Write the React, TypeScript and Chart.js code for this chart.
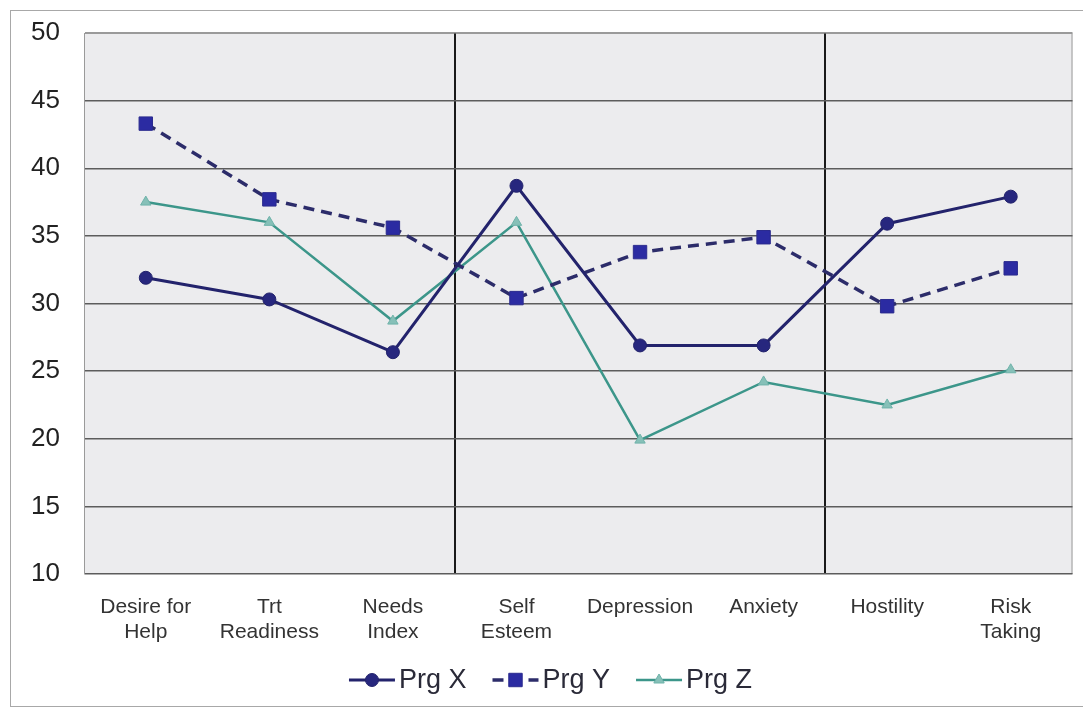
import React, { useEffect, useRef } from 'react';
import { Chart, registerables } from 'chart.js';

Chart.register(...registerables);

const categories: string[][] = [
  ['Desire for', 'Help'],
  ['Trt', 'Readiness'],
  ['Needs', 'Index'],
  ['Self', 'Esteem'],
  ['Depression'],
  ['Anxiety'],
  ['Hostility'],
  ['Risk', 'Taking'],
];
const prgX = [31.9, 30.3, 26.4, 38.7, 26.9, 26.9, 35.9, 37.9];
const prgY = [43.3, 37.7, 35.6, 30.4, 33.8, 34.9, 29.8, 32.6];
const prgZ = [37.5, 36.0, 28.7, 36.0, 19.9, 24.2, 22.5, 25.1];
const seriesNames = ['Prg X', 'Prg Y', 'Prg Z'];
const yMin = 10;
const yMax = 50;
const yStep = 5;
const separatorLines = [3, 6];

const FONT = '"Liberation Sans", Arial, sans-serif';

const plotBgPlugin = {
  id: 'plotBg',
  beforeDraw(chart: any) {
    const { ctx, chartArea } = chart;
    ctx.save();
    ctx.fillStyle = '#ececee';
    ctx.fillRect(chartArea.left, chartArea.top, chartArea.right - chartArea.left, chartArea.bottom - chartArea.top);
    ctx.strokeStyle = '#9a9a9a';
    ctx.lineWidth = 1;
    ctx.strokeRect(chartArea.left + 0.5, chartArea.top + 0.5, chartArea.right - chartArea.left - 1, chartArea.bottom - chartArea.top - 1);
    ctx.restore();
  },
};

function drawMarker(ctx: CanvasRenderingContext2D, style: string, x: number, y: number, r: number, fill: string, stroke: string) {
  ctx.save();
  ctx.setLineDash([]);
  ctx.fillStyle = fill;
  ctx.strokeStyle = stroke;
  ctx.lineWidth = 1;
  ctx.beginPath();
  if (style === 'circle') {
    ctx.arc(x, y, r, 0, Math.PI * 2);
  } else if (style === 'rect') {
    const s = r * Math.SQRT1_2;
    ctx.rect(x - s, y - s, 2 * s, 2 * s);
  } else {
    const h = r * 1.5;
    ctx.moveTo(x, y - r);
    ctx.lineTo(x + h * 0.58, y + r * 0.5);
    ctx.lineTo(x - h * 0.58, y + r * 0.5);
    ctx.closePath();
  }
  ctx.fill();
  ctx.stroke();
  ctx.restore();
}

const legendPlugin = {
  id: 'sampleLegend',
  afterDraw(chart: any) {
    const { ctx } = chart;
    ctx.save();
    ctx.font = '27px ' + FONT;
    const sampleW = 46;
    const gapText = 4;
    const gapItem = 26;
    const dss = chart.data.datasets;
    const widths = dss.map((d: any) => ctx.measureText(d.label).width);
    const total = widths.reduce((s: number, w: number) => s + sampleW + gapText + w, 0) + gapItem * (dss.length - 1);
    let x = chart.width / 2 + 9 - total / 2;
    const y = chart.height - 31;
    dss.forEach((d: any, i: number) => {
      ctx.save();
      ctx.strokeStyle = d.borderColor;
      ctx.lineWidth = d.borderWidth;
      ctx.setLineDash(d.borderDash || []);
      ctx.beginPath();
      ctx.moveTo(x, y);
      ctx.lineTo(x + sampleW, y);
      ctx.stroke();
      ctx.restore();
      drawMarker(ctx, d.pointStyle, x + sampleW / 2, y, d.pointRadius, d.pointBackgroundColor, d.pointBorderColor);
      ctx.fillStyle = '#2a2a38';
      ctx.textBaseline = 'middle';
      ctx.textAlign = 'left';
      ctx.fillText(d.label, x + sampleW + gapText, y + 1);
      x += sampleW + gapText + widths[i] + gapItem;
    });
    ctx.restore();
  },
};

export default function App() {
  const canvasRef = useRef<HTMLCanvasElement | null>(null);

  useEffect(() => {
    if (!canvasRef.current) return;
    const chart = new Chart(canvasRef.current, {
      type: 'line',
      data: {
        labels: categories as any,
        datasets: [
          {
            label: seriesNames[0],
            data: prgX,
            borderColor: '#23236c',
            borderWidth: 3,
            pointStyle: 'circle',
            pointRadius: 6.5,
            pointBackgroundColor: '#27277e',
            pointBorderColor: '#23236c',
            pointBorderWidth: 1,
            tension: 0,
          },
          {
            label: seriesNames[1],
            data: prgY,
            borderColor: '#2c2c6a',
            borderWidth: 3.5,
            borderDash: [11, 7],
            pointStyle: 'rect',
            pointRadius: 9.5,
            pointBackgroundColor: '#2b2ba2',
            pointBorderColor: '#2b2b8e',
            pointBorderWidth: 1,
            tension: 0,
          },
          {
            label: seriesNames[2],
            data: prgZ,
            borderColor: '#3c968a',
            borderWidth: 2.5,
            pointStyle: 'triangle',
            pointRadius: 6,
            pointBackgroundColor: '#86c0b8',
            pointBorderColor: '#6fb3aa',
            pointBorderWidth: 1,
            tension: 0,
          },
        ],
      },
      options: {
        animation: false,
        responsive: true,
        maintainAspectRatio: false,
        layout: { padding: { top: 33, right: 8, left: 0, bottom: 57 } },
        plugins: {
          legend: { display: false },
          tooltip: { enabled: false },
        },
        scales: {
          x: {
            offset: true,
            grid: {
              display: true,
              drawTicks: false,
              offset: true,
              color: (ctx: any) => (separatorLines.includes(ctx.index) ? '#1a1a1a' : 'rgba(0,0,0,0)'),
              lineWidth: 2,
            },
            border: { display: false },
            ticks: {
              color: '#333333',
              font: { family: FONT, size: 21, lineHeight: '25px' as any },
              padding: 21,
              maxRotation: 0,
              autoSkip: false,
            },
            afterFit: (scale: any) => {
              scale.height = 80;
              scale.paddingLeft = 0;
              scale.paddingRight = 0;
            },
          },
          y: {
            min: yMin,
            max: yMax,
            grid: {
              drawTicks: false,
              color: (ctx: any) => (ctx.tick && ctx.tick.value === yMax ? '#9a9a9a' : '#5c5c5c'),
              lineWidth: 1.5,
            },
            border: { display: true, color: '#9a9a9a', width: 1 },
            ticks: {
              stepSize: yStep,
              color: '#222222',
              font: { family: FONT, size: 26 },
              padding: 24,
            },
            afterFit: (scale: any) => {
              scale.width = 84;
              scale.paddingTop = 0;
              scale.paddingBottom = 0;
            },
          },
        },
      },
      plugins: [plotBgPlugin, legendPlugin],
    });
    return () => chart.destroy();
  }, []);

  return (
    <div style={{ position: 'fixed', left: 0, top: 0, width: 1083, height: 711, background: '#ffffff' }}>
      <div
        style={{
          position: 'absolute',
          left: 10,
          top: 10,
          width: 1090,
          height: 697,
          border: '1.5px solid #a8a8a8',
          boxSizing: 'border-box',
        }}
      />
      <div style={{ position: 'absolute', left: 0, top: 0, width: 1083, height: 711 }}>
        <canvas ref={canvasRef} />
      </div>
    </div>
  );
}
